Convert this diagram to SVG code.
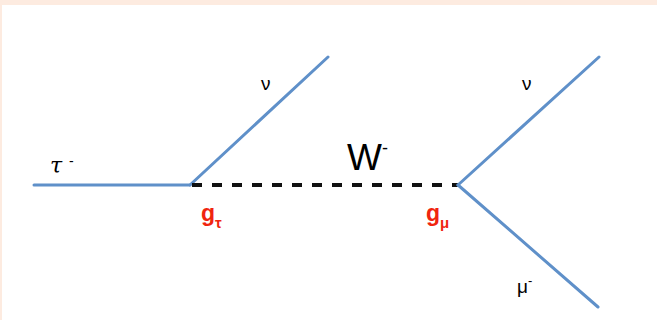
<svg xmlns="http://www.w3.org/2000/svg" width="657" height="320" viewBox="0 0 657 320">
<defs>
<style>
.fermion{stroke:#5f90c9;stroke-width:3;fill:none;stroke-linecap:round}
.boson{stroke:#111;stroke-width:4;fill:none;stroke-dasharray:10 10}
.lbl{font-family:"Liberation Sans",Arial,sans-serif;fill:#000}
.cpl{font-family:"Liberation Sans",Arial,sans-serif;fill:#f0250f;font-weight:bold}
</style>
</defs>
<rect x="0" y="0" width="657" height="320" fill="#fdebe0"/>
<rect x="2" y="5" width="655" height="315" fill="#ffffff"/>
<g id="connectors">
<line class="fermion" x1="34" y1="185" x2="190" y2="185"/>
<line class="fermion" x1="190" y1="185" x2="328" y2="57"/>
<line class="boson" x1="192" y1="185" x2="458" y2="185"/>
<line class="fermion" x1="458" y1="185" x2="599" y2="57"/>
<line class="fermion" x1="458" y1="185" x2="598" y2="307"/>
</g>
<g id="tau">
<text x="50" y="173" font-family="'DejaVu Serif','Liberation Serif',serif" font-style="italic" font-size="22" fill="#000">τ</text>
<text x="69" y="166" class="lbl" font-size="14">-</text>
</g>
<g id="nu1"><text x="261" y="90" class="lbl" font-size="19">ν</text></g>
<g id="W"><text x="347" y="170" class="lbl" font-size="37">W<tspan font-size="18" dy="-16">-</tspan></text></g>
<g id="g_tau"><text x="201" y="221" class="cpl" font-size="23">g<tspan font-size="15" dy="7">τ</tspan></text></g>
<g id="g_mu"><text x="426" y="221" class="cpl" font-size="23">g<tspan font-size="15" dy="7">μ</tspan></text></g>
<g id="nu2"><text x="522" y="90" class="lbl" font-size="19">ν</text></g>
<g id="mu"><text x="517" y="293" class="lbl" font-size="19">μ<tspan font-size="13" dy="-8">-</tspan></text></g>
</svg>
